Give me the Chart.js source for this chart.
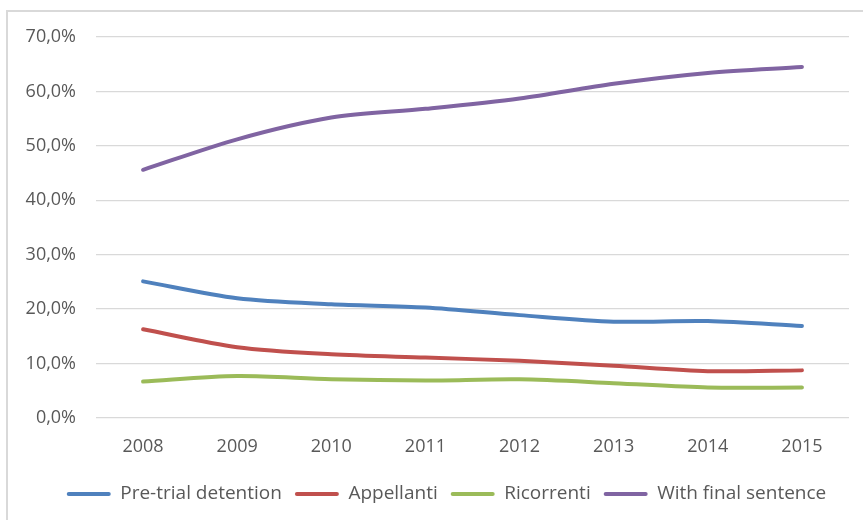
<!DOCTYPE html>
<html>
<head>
<meta charset="utf-8">
<script src="https://cdn.jsdelivr.net/npm/chart.js@4"></script>
<style>
  html, body { margin: 0; padding: 0; background: #ffffff; }
  #wrap { position: relative; width: 863px; height: 520px; overflow: hidden; }
  #frame { position: absolute; left: 6px; top: 10px; width: 900px; height: 600px; border: 2px solid #D9D9D9; box-sizing: border-box; }
  canvas { position: absolute; left: 0; top: 0; }
</style>
</head>
<body>
<div id="wrap">
  <div id="frame"></div>
  <canvas id="c" width="863" height="520"></canvas>
</div>
<script>
const years = ['2008', '2009', '2010', '2011', '2012', '2013', '2014', '2015'];
const seriesNames = ['Pre-trial detention', 'Appellanti', 'Ricorrenti', 'With final sentence'];
const preTrial = [25.1, 22.0, 20.9, 20.3, 18.9, 17.7, 17.8, 16.9];
const appellanti = [16.3, 13.0, 11.7, 11.1, 10.5, 9.6, 8.6, 8.75];
const ricorrenti = [6.7, 7.7, 7.1, 6.9, 7.1, 6.4, 5.6, 5.6];
const finalSentence = [45.6, 51.2, 55.2, 56.8, 58.7, 61.4, 63.4, 64.5];
const yTicks = [0, 10, 20, 30, 40, 50, 60, 70];

const colors = ['#4F81BD', '#C0504D', '#9BBB59', '#8064A2'];
const values = [preTrial, appellanti, ricorrenti, finalSentence];

const FONT = "'Open Sans', 'DejaVu Sans', sans-serif";

const legendShift = {
  id: 'legendShift',
  afterLayout(chart) {
    const lg = chart.legend;
    if (lg) { lg.left += 22; lg.right += 22; }
  }
};

new Chart(document.getElementById('c'), {
  type: 'line',
  data: {
    labels: years,
    datasets: values.map((v, i) => ({
      label: seriesNames[i],
      data: v,
      borderColor: colors[i],
      backgroundColor: colors[i],
      borderWidth: 4,
      borderCapStyle: 'round',
      borderJoinStyle: 'round',
      pointRadius: 0,
      pointHoverRadius: 0,
      tension: 0.3,
      fill: false
    }))
  },
  plugins: [legendShift],
  options: {
    responsive: false,
    animation: false,
    devicePixelRatio: 1,
    layout: { padding: { top: 37, right: 14, bottom: 6.5, left: 0 } },
    scales: {
      x: {
        offset: true,
        grid: { display: false, drawTicks: false, offset: true },
        border: { display: false },
        ticks: { color: '#595959', font: { family: FONT, size: 18 }, padding: 18, maxRotation: 0 },
        afterFit: (s) => { s.height = 53.5; }
      },
      y: {
        min: 0, max: 70,
        afterBuildTicks: (s) => { s.ticks = yTicks.map(v => ({ value: v })); },
        grid: { color: '#D9D9D9', lineWidth: 1.3, drawTicks: false },
        border: { display: false },
        ticks: {
          color: '#595959', font: { family: FONT, size: 18 }, padding: 20,
          callback: (v) => v.toFixed(1).replace('.', ',') + '%'
        },
        afterFit: (s) => { s.width = 96; }
      }
    },
    plugins: {
      tooltip: { enabled: false },
      legend: {
        position: 'bottom',
        labels: {
          color: '#595959',
          font: { family: FONT, size: 19 },
          boxWidth: 44,
          boxHeight: 4,
          padding: 13,
          generateLabels: (chart) => Chart.defaults.plugins.legend.labels.generateLabels(chart).map(l => ({
            ...l, lineWidth: 0, fillStyle: l.strokeStyle, borderRadius: 2
          }))
        }
      }
    }
  }
});
</script>
</body>
</html>
